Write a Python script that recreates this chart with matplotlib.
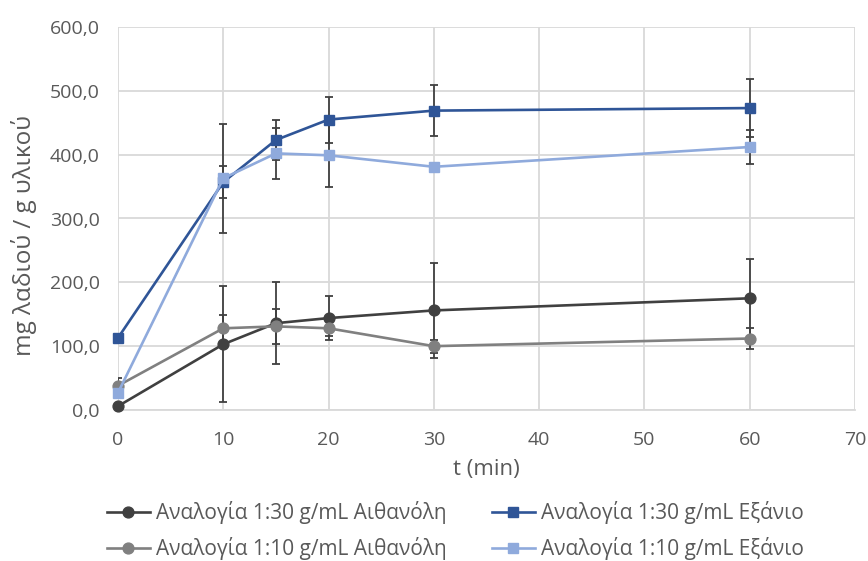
import matplotlib
matplotlib.use("Agg")
import matplotlib.pyplot as plt
from matplotlib.ticker import FuncFormatter, MultipleLocator

plt.rcParams["font.family"] = ["Open Sans", "DejaVu Sans"]

# Extraction time (min)
t_min = [0, 10, 15, 20, 30, 60]

# Oil yield, mg oil / g material, with standard deviations
eth_1_30 = [6, 103, 136, 144, 156, 175]
eth_1_30_err = [0, 91, 64, 34, 75, 62]

hex_1_30 = [113, 357, 423, 455, 469, 473]
hex_1_30_err = [0, 25, 32, 36, 40, 46]

eth_1_10 = [38, 128, 131, 128, 100, 112]
eth_1_10_err = [12, 21, 28, 12, 10, 16]

hex_1_10 = [27, 363, 402, 399, 381, 412]
hex_1_10_err = [0, 85, 40, 49, 0, 27]

labels = [
    "Αναλογία 1:30 g/mL Αιθανόλη",
    "Αναλογία 1:30 g/mL Εξάνιο",
    "Αναλογία 1:10 g/mL Αιθανόλη",
    "Αναλογία 1:10 g/mL Εξάνιο",
]

W, H = 868, 561
fig = plt.figure(figsize=(W / 100, H / 100), dpi=100)
ax = fig.add_axes([118 / W, 1 - 410 / H, (855 - 118) / W, (410 - 27) / H])

err_color = "#404040"
text_color = "#595959"
styles = [
    (eth_1_30, eth_1_30_err, "#404040", "o"),
    (hex_1_30, hex_1_30_err, "#2f5597", "s"),
    (eth_1_10, eth_1_10_err, "#808080", "o"),
    (hex_1_10, hex_1_10_err, "#8faadc", "s"),
]

handles = []
for (vals, errs, col, mk), lab in zip(styles, labels):
    ax.errorbar(t_min, vals, yerr=errs, fmt="none", ecolor=err_color,
                elinewidth=1.3, capsize=2.8, capthick=1.3, zorder=2)
    h, = ax.plot(t_min, vals, color=col, lw=1.9, marker=mk, markersize=7.8,
                 markerfacecolor=col, markeredgecolor=col, label=lab, zorder=3,
                 clip_on=False)
    handles.append(h)

ax.set_xlim(0, 70)
ax.set_ylim(0, 600)
ax.xaxis.set_major_locator(MultipleLocator(10))
ax.yaxis.set_major_locator(MultipleLocator(100))
ax.yaxis.set_major_formatter(FuncFormatter(lambda v, p: f"{v:.1f}".replace(".", ",")))

ax.grid(True, color="#d9d9d9", lw=1.3)
ax.set_axisbelow(True)
for s in ["top", "right", "left"]:
    ax.spines[s].set_visible(False)
ax.spines["bottom"].set_color("#d9d9d9")
ax.spines["bottom"].set_linewidth(1.3)
ax.tick_params(axis="both", length=0, labelsize=14, colors=text_color)
ax.tick_params(axis="x", pad=15)
ax.tick_params(axis="y", pad=13)

ax.set_xlabel("t (min)", fontsize=16, color=text_color, labelpad=7)
ax.set_ylabel("mg λαδιού / g υλικού", fontsize=17.5, color=text_color,
              va="center", ha="center")
ax.yaxis.set_label_coords(-0.128, 0.455)

# Two legend columns, each placed on its own
leg_kw = dict(frameon=False, fontsize=15, handlelength=2.05, handletextpad=0.3,
              labelspacing=0.62, borderpad=0, borderaxespad=0,
              labelcolor=text_color, loc="upper left")
leg1 = fig.legend(handles=[handles[0], handles[2]], labels=[labels[0], labels[2]],
                  bbox_to_anchor=(107 / W, 1 - 501 / H), **leg_kw)
leg2 = fig.legend(handles=[handles[1], handles[3]], labels=[labels[1], labels[3]],
                  bbox_to_anchor=(492 / W, 1 - 501 / H), **leg_kw)

fig.savefig("out.png", dpi=100)
